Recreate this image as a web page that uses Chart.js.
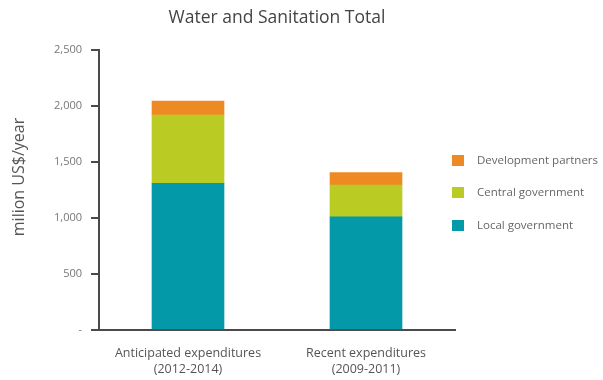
<!DOCTYPE html>
<html>
<head>
<meta charset="utf-8">
<script src="https://cdn.jsdelivr.net/npm/chart.js@4/dist/chart.umd.min.js"></script>
<style>
  html, body { margin: 0; padding: 0; background: #fff; }
  #wrap { width: 603px; height: 380px; }
</style>
</head>
<body>
<div id="wrap"><canvas id="c" width="603" height="380"></canvas></div>
<script>
// Expenditure periods
const categories = [
  ['Anticipated expenditures', '(2012-2014)'],
  ['Recent expenditures', '(2009-2011)']
];
// million US$ per year, by funding source
const localGovernment = [1310, 1010];
const centralGovernment = [610, 285];
const developmentPartners = [125, 110];
const yTicks = [0, 500, 1000, 1500, 2000, 2500];
const yAxisTitle = 'milion US$/year';

const FONT = '"Open Sans", sans-serif';

// Legend to the right of the plot (top entry = top of the stack) and the
// rotated value-axis caption
const sideDecor = {
  id: 'sideDecor',
  afterDraw(chart) {
    const ctx = chart.ctx;
    const sets = chart.data.datasets.slice().reverse();
    const rowsY = [160, 192, 225];
    ctx.save();
    ctx.font = '11.5px ' + FONT;
    ctx.textBaseline = 'middle';
    ctx.textAlign = 'left';
    sets.forEach((ds, i) => {
      const y = rowsY[i];
      ctx.fillStyle = ds.backgroundColor;
      ctx.fillRect(452, y - 5, 12, 11);
      ctx.fillStyle = '#666';
      ctx.fillText(ds.label, 477, y + 1);
    });
    ctx.translate(19, 177);
    ctx.rotate(-Math.PI / 2);
    ctx.textAlign = 'center';
    ctx.font = '16px ' + FONT;
    ctx.fillStyle = '#555';
    ctx.fillText(yAxisTitle, 0, 0);
    ctx.restore();
  }
};

new Chart(document.getElementById('c'), {
  type: 'bar',
  data: {
    labels: categories,
    datasets: [
      { label: 'Local government', data: localGovernment, backgroundColor: '#0399A8' },
      { label: 'Central government', data: centralGovernment, backgroundColor: '#BACB24' },
      { label: 'Development partners', data: developmentPartners, backgroundColor: '#EE8A24' }
    ]
  },
  options: {
    responsive: false,
    animation: false,
    events: [],
    layout: { padding: { left: 0, right: 148, top: 0, bottom: 0 } },
    datasets: { bar: { barThickness: 72, borderWidth: 0 } },
    plugins: {
      legend: { display: false },
      tooltip: { enabled: false },
      title: {
        display: true,
        text: 'Water and Sanitation Total',
        fullSize: false,
        color: '#444',
        font: { family: FONT, size: 17.5, weight: 'normal' },
        padding: { top: 8, bottom: 21 },
        lineHeight: 1.2
      }
    },
    scales: {
      x: {
        stacked: true,
        grid: { display: false, drawTicks: false },
        border: { display: true, color: '#4a4a4a', width: 2 },
        ticks: {
          color: '#555',
          font: { family: FONT, size: 12.5, lineHeight: 1.3 },
          padding: 15,
          maxRotation: 0
        },
        afterFit(scale) { scale.height = 50; }
      },
      y: {
        stacked: true,
        min: 0,
        max: 2500,
        afterBuildTicks(scale) { scale.ticks = yTicks.map(v => ({ value: v })); },
        grid: { drawOnChartArea: false, drawTicks: true, tickLength: 8, color: '#4a4a4a', lineWidth: 2 },
        border: { display: true, color: '#4a4a4a', width: 2 },
        ticks: {
          color: '#777',
          font: { family: FONT, size: 11 },
          padding: 9,
          callback: v => v === 0 ? '-' : v.toLocaleString('en-US')
        },
        afterFit(scale) { scale.width = 99; }
      }
    }
  },
  plugins: [sideDecor]
});
</script>
</body>
</html>
